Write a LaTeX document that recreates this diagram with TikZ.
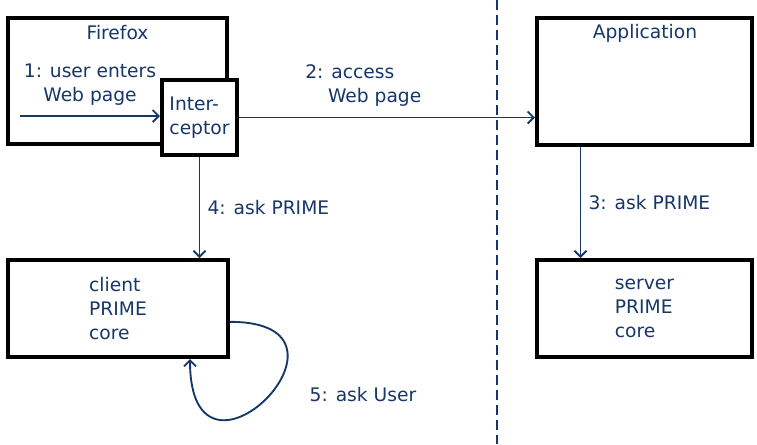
\documentclass[tikz,border=0pt]{standalone}
\usepackage{fontspec}
\setmainfont{DejaVu Sans}
\usetikzlibrary{positioning}
\usetikzlibrary{arrows.meta}
\definecolor{primeblue}{RGB}{22,55,104}
\tikzset{
  comp/.style={draw=black, line width=3pt, fill=white, inner sep=0pt},
  txt/.style={text=primeblue, font=\fontsize{14}{18}\selectfont, align=left},
  flow/.style={draw=primeblue, line width=1.4pt, -{Straight Barb[length=4.5pt,width=9pt]}},
  border/.style={draw=primeblue, line width=1.5pt, dash pattern=on 7.5pt off 3.75pt},
}

\begin{document}
\begin{tikzpicture}[x=0.75pt, y=-0.75pt]
  \useasboundingbox (0,0) rectangle (757,444);

  % client side
  \node[comp, minimum width=164.25pt, minimum height=94.5pt] (firefox) at (117.5,81) {};
  \node[txt] (firefoxname) at (117.5,33) {Firefox};
  \node[comp, txt, minimum width=56.25pt, minimum height=56.25pt] (interceptor) at (199.5,117.5) {Inter-\\ceptor};
  \node[comp, txt, minimum width=165pt, minimum height=72.75pt] (client) at (118,308.5) {client\\PRIME\\core};

  % server side
  \node[comp, minimum width=161.25pt, minimum height=95.25pt] (application) at (644.5,81.5) {};
  \node[txt] (applicationname) at (645,33) {Application};
  \node[comp, txt, minimum width=161.25pt, minimum height=72.75pt] (server) at (644.5,308.5) {server\\PRIME\\core};

  % boundary
  \coordinate (top) at (497,0);
  \coordinate (bottom) at (497,444);
  \draw[border] (top) -- (bottom);

  % messages
  \coordinate (entry) at (20,116);
  \draw[flow] (entry) -- node[txt, align=center, above=4pt, midway] {1: user enters\\Web page} (entry -| interceptor.west);
  \draw[flow] (interceptor.east) -- node[txt, above=4pt, pos=0.42] {2: access\\\hspace*{17pt}Web page} (interceptor.east -| application.west);
  \draw[flow] ([xshift=-48pt]application.south) -- node[txt, right=2pt] {3: ask PRIME} ([xshift=-48pt]server.north);
  \draw[flow] (interceptor.south) -- node[txt, right=2pt] {4: ask PRIME} (interceptor.south |- client.north);
  \draw[flow] ([yshift=-10pt]client.east) .. controls +(150,0) and +(0,155) .. ([xshift=54pt]client.south);
  \node[txt, anchor=west] (askuser) at (305,395) {5: ask User};
\end{tikzpicture}
\end{document}
